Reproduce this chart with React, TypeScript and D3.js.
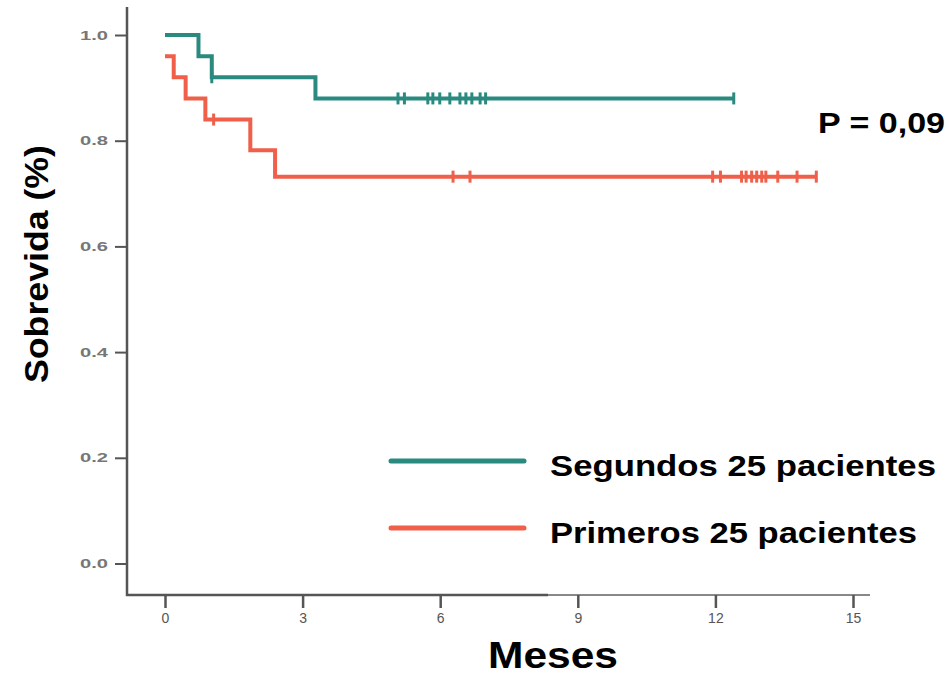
import * as d3 from 'd3';
import React from 'react';

// Kaplan-Meier steps: [months, survival]
const groupNames = ['Segundos 25 pacientes', 'Primeros 25 pacientes'];
const groupColors = ['#2a8a80', '#f05f49'];
const segundosSteps: [number, number][] = [
  [0, 1.0],
  [0.73, 0.96],
  [1.02, 0.92],
  [3.28, 0.88],
  [12.4, 0.88],
];
const primerosSteps: [number, number][] = [
  [0, 0.96],
  [0.19, 0.92],
  [0.45, 0.88],
  [0.88, 0.84],
  [1.86, 0.782],
  [2.4, 0.732],
  [14.2, 0.732],
];
const segundosCensored = [1.02, 5.08, 5.22, 5.73, 5.84, 5.99, 6.21, 6.43, 6.56, 6.69, 6.87, 6.99, 12.4];
const primerosCensored = [1.06, 6.28, 6.65, 11.94, 12.11, 12.57, 12.67, 12.79, 12.9, 13.01, 13.1, 13.36, 13.78, 14.2];
const xTicks = [0, 3, 6, 9, 12, 15];
const yTicks = [0, 0.2, 0.4, 0.6, 0.8, 1.0];
const pValueLabel = 'P = 0,09';

const W = 949;
const H = 675;

function survivalAt(steps: [number, number][], t: number) {
  let s = steps[0][1];
  for (const [time, value] of steps) {
    if (time <= t) s = value;
  }
  return s;
}

export default function App() {
  const xAxisRef = React.useRef<SVGGElement>(null);
  const yAxisRef = React.useRef<SVGGElement>(null);

  const xScale = d3.scaleLinear().domain([0, 15]).range([165, 853]);
  const yScale = d3.scaleLinear().domain([0, 1]).range([563.5, 35]);

  const line = d3
    .line<[number, number]>()
    .x((d) => xScale(d[0]))
    .y((d) => yScale(d[1]))
    .curve(d3.curveStepAfter);

  React.useEffect(() => {
    if (xAxisRef.current == null || yAxisRef.current == null) {
      return;
    }
    const gx = d3.select(xAxisRef.current);
    gx.selectAll('*').remove();
    gx.call(d3.axisBottom(xScale).tickValues(xTicks).tickSize(13).tickPadding(5).tickSizeOuter(0));
    gx.select('.domain').remove();
    gx.selectAll('line').attr('stroke', '#555').attr('stroke-width', 2.5);
    gx.selectAll('text')
      .attr('fill', '#555')
      .attr('font-size', 14)
      .attr('font-family', '"Liberation Sans", Arial, sans-serif');

    const gy = d3.select(yAxisRef.current);
    gy.selectAll('*').remove();
    gy.call(
      d3
        .axisLeft(yScale)
        .tickValues(yTicks)
        .tickFormat(d3.format('.1f'))
        .tickSize(12)
        .tickPadding(7)
        .tickSizeOuter(0),
    );
    gy.select('.domain').remove();
    gy.selectAll('line').attr('stroke', '#555').attr('stroke-width', 2);
    gy.selectAll('text')
      .attr('fill', '#777')
      .attr('font-size', 13)
      .attr('font-weight', 'bold')
      .attr('font-family', '"Liberation Sans", Arial, sans-serif')
      .attr('textLength', 28)
      .attr('lengthAdjust', 'spacingAndGlyphs');
  }, []);

  const series = [
    { steps: segundosSteps, censored: segundosCensored },
    { steps: primerosSteps, censored: primerosCensored },
  ];

  const legendY = [461, 528];
  const legendLen = [386, 367];

  return (
    <svg
      width={W}
      height={H}
      style={{ position: 'absolute', left: 0, top: 0, background: 'white' }}
      fontFamily='"Liberation Sans", Arial, sans-serif'>
      {/* axis lines */}
      <line x1={127} x2={127} y1={7} y2={596} stroke='#555' strokeWidth={2.5} />
      <line x1={126} x2={548} y1={595} y2={595} stroke='#555' strokeWidth={2.5} />
      <line x1={548} x2={870} y1={595} y2={595} stroke='#888' strokeWidth={2} />
      <g ref={xAxisRef} transform='translate(0, 595)' />
      <g ref={yAxisRef} transform='translate(127, 0)' />

      {series.map((s, i) => (
        <g key={i}>
          <path d={line(s.steps) ?? ''} fill='none' stroke={groupColors[i]} strokeWidth={4} />
          {s.censored.map((t, j) => (
            <line
              key={j}
              x1={xScale(t)}
              x2={xScale(t)}
              y1={yScale(survivalAt(s.steps, t)) - 6}
              y2={yScale(survivalAt(s.steps, t)) + 6}
              stroke={groupColors[i]}
              strokeWidth={3}
            />
          ))}
        </g>
      ))}

      <text x={818} y={133} fontSize={30} fontWeight='bold' textLength={127} lengthAdjust='spacingAndGlyphs'>
        {pValueLabel}
      </text>

      {groupNames.map((name, i) => (
        <g key={name}>
          <line
            x1={391}
            x2={524}
            y1={legendY[i]}
            y2={legendY[i]}
            stroke={groupColors[i]}
            strokeWidth={5}
            strokeLinecap='round'
          />
          <text
            x={550}
            y={legendY[i] + 15}
            fontSize={30}
            fontWeight='bold'
            textLength={legendLen[i]}
            lengthAdjust='spacingAndGlyphs'>
            {name}
          </text>
        </g>
      ))}

      <text
        x={553}
        y={668}
        fontSize={37}
        fontWeight='bold'
        textAnchor='middle'
        textLength={130}
        lengthAdjust='spacingAndGlyphs'>
        Meses
      </text>
      <text
        transform='translate(48, 264) rotate(-90)'
        fontSize={34}
        fontWeight='bold'
        textAnchor='middle'
        textLength={238}
        lengthAdjust='spacingAndGlyphs'>
        Sobrevida (%)
      </text>
    </svg>
  );
}
